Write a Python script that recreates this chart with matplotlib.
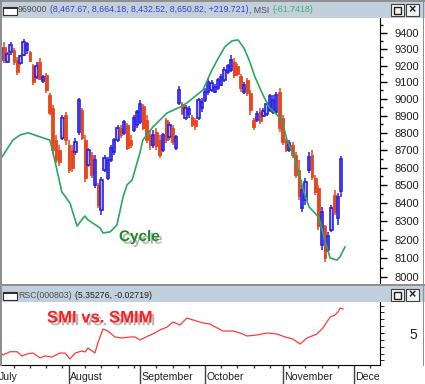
import numpy as np
import matplotlib
matplotlib.use("Agg")
import matplotlib.pyplot as plt
import matplotlib.patches as mpatches
import matplotlib.patheffects as pe
import matplotlib.transforms as mtrans
from matplotlib.ticker import FixedLocator, NullFormatter, FuncFormatter

plt.rcParams['font.family'] = ['Liberation Sans', 'DejaVu Sans']

# ---------------- data ----------------
# trading-day index (0 = first trading day of July)
day_index = list(range(1, 107))
opens = [9234, 9314, 9222, 9283, 9295, 9234, 9216, 9264, 9295, 9283,
         9197, 9131, 9222, 9107, 9143, 9023, 8946, 8758, 8701, 8770,
         8904, 8730, 8701, 8690, 8805, 8934, 8758, 8615, 8672, 8502,
         8502, 8362, 8586, 8541, 8643, 8690, 8758, 8828, 8799, 8846,
         8758, 8817, 8846, 8863, 8957, 8875, 8787, 8730, 8805, 8758,
         8701, 8875, 8776, 8828, 8712, 8975, 8969, 8887, 8910, 8892,
         8875, 8887, 8946, 8993, 9041, 9053, 9041, 9065, 9083, 9113,
         9161, 9173, 9222, 9197, 9137, 9041, 9113, 9035, 8875, 8875,
         8922, 8898, 8910, 8934, 8922, 8922, 9041, 8887, 8758, 8701,
         8730, 8672, 8586, 8373, 8418, 8586, 8672, 8541, 8485, 8171,
         8275, 8144, 8253, 8446, 8318, 8467.67]
highs = [9326, 9345, 9283, 9345, 9307, 9252, 9264, 9363, 9345, 9289,
         9210, 9222, 9246, 9143, 9155, 9035, 8963, 8787, 8730, 8904,
         8922, 8758, 8730, 8770, 9005, 8946, 8787, 8712, 8689, 8672,
         8513, 8547, 8672, 8660, 8730, 8770, 8846, 8846, 8875, 8858,
         8787, 8904, 8934, 8993, 8969, 8904, 8817, 8817, 8828, 8787,
         8799, 8887, 8863, 8846, 8787, 9077, 8981, 8963, 8957, 8904,
         8887, 9005, 9005, 9065, 9125, 9113, 9089, 9125, 9149, 9191,
         9210, 9264, 9246, 9210, 9149, 9101, 9125, 9053, 8887, 8928,
         8946, 8946, 8981, 9029, 9023, 9041, 9065, 8904, 8770, 8758,
         8747, 8689, 8643, 8502, 8541, 8689, 8701, 8558, 8502, 8379,
         8280, 8242, 8390, 8474, 8457, 8664.18]
lows = [9222, 9216, 9216, 9264, 9203, 9143, 9203, 9258, 9271, 9222,
        9083, 9119, 9113, 9095, 9035, 8904, 8672, 8626, 8609, 8758,
        8730, 8569, 8575, 8672, 8787, 8758, 8519, 8603, 8541, 8485,
        8373, 8334, 8575, 8530, 8632, 8672, 8747, 8770, 8787, 8701,
        8712, 8805, 8828, 8852, 8817, 8741, 8701, 8712, 8701, 8655,
        8689, 8741, 8758, 8730, 8701, 8963, 8904, 8875, 8887, 8834,
        8817, 8875, 8922, 8981, 9023, 9041, 9035, 9053, 9077, 9101,
        9149, 9161, 9125, 9137, 9041, 9029, 9017, 8904, 8817, 8863,
        8852, 8892, 8898, 8922, 8910, 8910, 8805, 8730, 8689, 8689,
        8655, 8541, 8418, 8351, 8390, 8569, 8530, 8446, 8253, 8144,
        8080, 8133, 8242, 8334, 8280, 8432.52]
closes = [9307, 9234, 9271, 9326, 9222, 9161, 9258, 9345, 9332, 9228,
          9101, 9197, 9119, 9131, 9053, 8916, 8701, 8643, 8632, 8887,
          8758, 8586, 8598, 8747, 8993, 8770, 8541, 8701, 8558, 8643,
          8390, 8530, 8655, 8643, 8712, 8758, 8828, 8787, 8863, 8712,
          8730, 8887, 8922, 8969, 8828, 8758, 8730, 8787, 8724, 8672,
          8787, 8758, 8846, 8747, 8776, 9053, 8916, 8946, 8940, 8846,
          8840, 8993, 8981, 9041, 9101, 9095, 9071, 9113, 9131, 9173,
          9197, 9234, 9143, 9149, 9065, 9083, 9035, 8934, 8834, 8910,
          8869, 8928, 8969, 9017, 8993, 9023, 8828, 8747, 8701, 8741,
          8672, 8558, 8440, 8474, 8519, 8660, 8547, 8463, 8275, 8351,
          8101, 8220, 8373, 8351, 8435, 8650.82]

cycle_idx = [0.7, 4.7, 6.9, 9.4, 13.1, 16.1, 17.1, 19.8, 22.3, 24.5, 26.9, 27.9,
             31.6, 32.5, 34.7, 36.8, 38.7, 39.9, 41.5, 43.9, 44.8, 47.9, 52.3,
             56.3, 58.4, 60.3, 63.4, 66.1, 68.3, 70.1, 72.3, 74.2, 76.0, 77.6,
             79.4, 81.6, 83.7, 85.6, 87.7, 89.3, 91.5, 93.0, 94.5, 96.1, 97.9,
             99.2, 100.7, 102.6, 104.7, 105.6, 107.2]
cycle_val = [8643, 8758, 8787, 8800, 8776, 8758, 8684, 8463, 8401, 8274, 8329, 8307,
             8264, 8236, 8242, 8280, 8435, 8502, 8530, 8684, 8758, 8834, 8916,
             8951, 8975, 9005, 9053, 9173, 9252, 9314, 9351, 9357, 9307, 9234,
             9131, 9035, 8951, 8916, 8875, 8758, 8661, 8570, 8463, 8379, 8346,
             8318, 8214, 8101, 8090, 8106, 8160]

rsc_idx = [0.7, 1.6, 3.8, 6.0, 7.5, 9.0, 10.9, 13.1, 14.6, 16.8, 19.2, 20.8, 22.3,
           23.9, 26.0, 27.0, 27.9, 30.0, 31.0, 32.5, 34.0, 36.2, 38.4, 40.8, 42.4,
           43.9, 46.4, 48.5, 50.1, 52.3, 54.1, 56.3, 58.4, 60.3, 63.4, 65.5, 69.5,
           72.6, 74.8, 77.0, 80.0, 83.1, 86.2, 88.7, 91.1, 93.3, 95.5, 98.5, 100.4,
           102.6, 104.1, 105.0, 105.7, 106.6]
rsc_val = [4.727, 4.679, 4.727, 4.727, 4.665, 4.694, 4.708, 4.636, 4.665, 4.650,
           4.708, 4.708, 4.621, 4.708, 4.738, 4.723, 4.781, 4.708, 4.869, 5.058,
           5.029, 4.942, 4.927, 4.942, 4.942, 4.898, 4.956, 5.000, 5.044, 5.087,
           5.160, 5.117, 5.219, 5.190, 5.146, 5.131, 5.029, 5.029, 5.000, 4.956,
           4.971, 5.000, 4.985, 4.942, 4.913, 4.840, 4.927, 4.985, 5.073, 5.233,
           5.262, 5.306, 5.364, 5.350]

price_ticks = [8000, 8100, 8200, 8300, 8400, 8500, 8600, 8700, 8800, 8900,
               9000, 9100, 9200, 9300, 9400]
month_labels = ["July", "August", "September", "October", "November", "Dece"]
month_start_idx = [0, 22, 44, 64, 88, 110]
week_tick_idx = [5, 10, 15, 20, 27, 32, 37, 42, 49, 54, 59, 69, 74, 79, 84,
                 90, 95, 100, 105, 115]

title1 = [("969000", "#505050"),
          ("(8,467.67, 8,664.18, 8,432.52, 8,650.82, +219.721)", "#4040c8"),
          (", MSI", "#505050"),
          ("(-61.7418)", "#40b070")]
title2 = [("RSC(000803)", "#505050"), ("(5.35276, -0.02719)", "#202020")]

# ---------------- layout ----------------
W, H = 425, 384
fig = plt.figure(figsize=(W / 100, H / 100), dpi=100)
fig.patch.set_facecolor("white")


def fx(x):
    return x / W


def fy(y):
    return 1 - y / H


def rect(x0, y0, x1, y1, **kw):
    fig.patches.append(mpatches.Rectangle((fx(x0), fy(y1)), fx(x1) - fx(x0),
                                          fy(y0) - fy(y1), transform=fig.transFigure,
                                          figure=fig, **kw))


XL, XR = 1.33, 118.0

# upper panel
ax1 = fig.add_axes([fx(2), fy(285), fx(380) - fx(2), fy(18) - fy(285)])
ax1.set_yscale("log")
ax1.set_ylim(7957.8, 9493.6)
ax1.set_xlim(XL, XR)

up_col, up_fill = "#2a1fe6", "#b4b4ff"
dn_col = "#e8461c"
for i, o, h, l, c in zip(day_index, opens, highs, lows, closes):
    col = up_col if c >= o else dn_col
    ax1.vlines(i, l, h, color=col, lw=1.1, zorder=2)
    if c >= o:
        ax1.bar(i, c - o, bottom=o, width=0.72, facecolor=up_fill,
                edgecolor=up_col, lw=1.2, zorder=3)
    else:
        ax1.bar(i, o - c, bottom=c, width=0.85, facecolor=dn_col,
                edgecolor=dn_col, lw=0.6, zorder=3)

ax1.plot(cycle_idx, cycle_val, color="#2aa860", lw=1.2, zorder=4)

for s in ["left", "top", "bottom"]:
    ax1.spines[s].set_visible(False)
ax1.spines["right"].set_color("black")
ax1.yaxis.tick_right()
ax1.yaxis.set_major_locator(FixedLocator(price_ticks))
ax1.yaxis.set_major_formatter(FuncFormatter(lambda v, p: f"{int(round(v))}"))
ax1.yaxis.set_minor_locator(FixedLocator([v + 50 for v in price_ticks] + [7950]))
ax1.yaxis.set_minor_formatter(NullFormatter())
ax1.tick_params(axis="y", which="major", length=5, width=1, pad=5.5,
                labelsize=8, labelcolor="#202020")
ax1.tick_params(axis="y", which="minor", length=2.5, width=1)
ax1.set_xticks([])

# lower panel
ax2 = fig.add_axes([fx(2), fy(365), fx(380) - fx(2), fy(302) - fy(365)])
ax2.set_xlim(XL, XR)
ax2.set_ylim(4.5335, 5.452)
ax2.plot(rsc_idx, rsc_val, color="#ff3a3a", lw=0.9)
for s in ["left", "top"]:
    ax2.spines[s].set_visible(False)
ax2.yaxis.tick_right()
ax2.yaxis.set_major_locator(FixedLocator([5.0]))
ax2.yaxis.set_major_formatter(FuncFormatter(lambda v, p: "5"))
ax2.yaxis.set_minor_locator(FixedLocator([4.6, 4.7, 4.8, 4.9, 5.1, 5.2, 5.3, 5.4]))
ax2.tick_params(axis="y", which="major", length=3, pad=18, labelsize=10,
                labelcolor="#202020")
ax2.tick_params(axis="y", which="minor", length=3)
ax2.xaxis.set_major_locator(FixedLocator(month_start_idx))
ax2.xaxis.set_major_formatter(NullFormatter())
ax2.xaxis.set_minor_locator(FixedLocator(week_tick_idx))
ax2.tick_params(axis="x", which="major", length=14, width=1, color="#404040")
ax2.tick_params(axis="x", which="minor", length=2.5, width=1, color="#404040")
tr = mtrans.blended_transform_factory(ax2.transData, ax2.transAxes)
tr = mtrans.offset_copy(tr, fig=fig, x=1.5, y=0, units="dots")
for m, lab in zip(month_start_idx, month_labels):
    ax2.text(m, -0.19, lab, transform=tr, ha="left", va="center", fontsize=7.6,
             color="#202020", clip_on=False)

# ---------------- window chrome ----------------
bar_col = "#c2cfdc"
rect(0, 0, 425, 18, facecolor=bar_col, edgecolor="none", zorder=0)
rect(0, 0, 425, 1.5, facecolor="#909090", edgecolor="none", zorder=0)
rect(0, 285, 425, 302, facecolor=bar_col, edgecolor="none", zorder=0)
rect(0, 284, 425, 286, facecolor="#909090", edgecolor="none", zorder=0)
rect(0, 0, 1.5, 366, facecolor="#909090", edgecolor="none", zorder=0)
rect(422.5, 0, 424, 366, facecolor="#909090", edgecolor="none", zorder=0)

for ytop in (3, 288):
    rect(3, ytop + 4, 17, ytop + 12, facecolor="white", edgecolor="#303030", lw=0.8)
    rect(3, ytop + 4, 17, ytop + 5.5, facecolor="#303030", edgecolor="none")
    rect(391, ytop + 1, 404, ytop + 13, facecolor="#f4f4f4", edgecolor="#404040", lw=0.8)
    rect(406, ytop + 1, 419, ytop + 13, facecolor="#f4f4f4", edgecolor="#404040", lw=0.8)
    rect(394, ytop + 3.5, 401, ytop + 10.5, facecolor="none", edgecolor="#202020", lw=1.0)
    fig.text(fx(412.5), fy(ytop + 7), "×", ha="center", va="center", fontsize=9,
             fontweight="bold", color="#202020")

renderer = fig.canvas.get_renderer()


def put_pieces(x, y, pieces, gaps, size):
    for (s, col), g in zip(pieces, gaps):
        x += g
        t = fig.text(fx(x), fy(y), s, color=col, fontsize=size, ha="left", va="center")
        x += t.get_window_extent(renderer).width


put_pieces(18, 10, title1, [0, 3, 0, 3], 6.3)
put_pieces(18, 295, title2, [0, 3], 6.3)

# ---------------- annotations ----------------
shadow = [pe.SimplePatchShadow(offset=(2, -2), shadow_rgbFace="#b8b8b8", alpha=1.0),
          pe.Normal()]
fig.text(fx(119), fy(237), "Cycle", fontsize=11, fontweight="bold", color="#1f8a2a",
         ha="left", va="center", path_effects=shadow)
fig.text(fx(47), fy(318), "SMI vs. SMIM", fontsize=12, fontweight="bold",
         color="#ff1e1e", ha="left", va="center", path_effects=shadow)

fig.savefig("out.png", dpi=100)
